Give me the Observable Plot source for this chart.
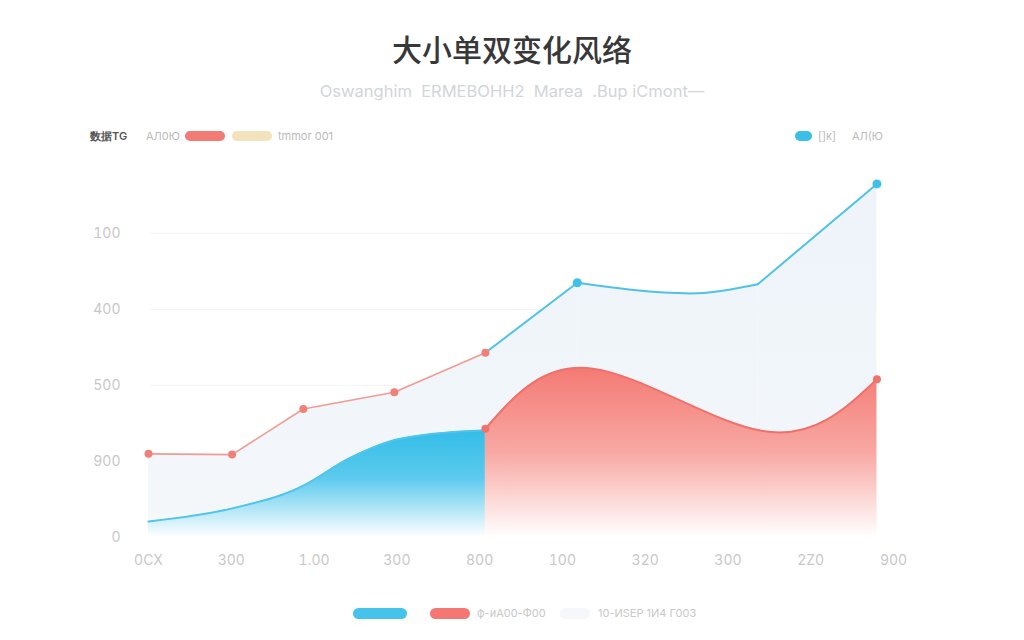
<!DOCTYPE html>
<html><head><meta charset="utf-8">
<script src="https://cdn.jsdelivr.net/npm/d3@7"></script>
<script src="https://cdn.jsdelivr.net/npm/@observablehq/plot@0.6"></script>
<style>
body{margin:0;background:#fff;width:1024px;height:640px;overflow:hidden;position:relative;font-family:Inter,"Noto Sans",sans-serif;}
.abs{position:absolute;white-space:nowrap;}
#title{left:0;width:1024px;top:26px;text-align:center;font-family:"Noto Sans CJK SC",sans-serif;font-size:30px;font-weight:500;color:#383838;}
#sub{left:0;width:1024px;top:81px;text-align:center;font-size:16.5px;color:#d2d5d9;}
.pill{position:absolute;border-radius:6px;}
.lt{position:absolute;font-size:11px;color:#bbb;line-height:14px;}
#chart{position:absolute;left:0;top:150px;}
</style></head>
<body>
<div id="title" class="abs">大小单双变化风络</div>
<div id="sub" class="abs">Oswanghim&nbsp; ERMEBOHH2&nbsp; Marea&nbsp; .Bup iCmont—</div>

<div class="lt" style="left:90px;top:129px;color:#555;font-weight:600;">数据TG</div>
<div class="lt" style="left:146px;top:129px;">AЛ0Ю</div>
<div class="pill" style="left:185px;top:131px;width:40px;height:10px;background:#f27b76;"></div>
<div class="pill" style="left:232px;top:131px;width:40px;height:10px;background:#f3e2bb;"></div>
<div class="lt" style="left:278px;top:129px;">tmmor 001</div>
<div class="pill" style="left:795px;top:131px;width:17px;height:10px;background:#3bbfe6;"></div>
<div class="lt" style="left:818px;top:129px;">[]к]</div>
<div class="lt" style="left:852px;top:129px;">AЛ(Ю</div>

<div class="pill" style="left:353px;top:608px;width:54px;height:11px;background:#45c3ea;"></div>
<div class="pill" style="left:430px;top:608px;width:40px;height:11px;background:#f47774;"></div>
<div class="lt" style="left:477px;top:606px;color:#c8c8c8;">ф-иA00-Ф00</div>
<div class="pill" style="left:560px;top:608px;width:30px;height:11px;background:#f5f7fa;"></div>
<div class="lt" style="left:598px;top:606px;color:#c8c8c8;">10-ИSEP 1И4 Г003</div>

<div id="chart"></div>
<script>
// x ticks (category index) and their labels
const xTicks = [0,1,2,3,4,5,6,7,8,9];
const xLabels = ["0CX","300","1.00","300","800","100","320","300","2Z0","900"];
// y ticks and their (as printed) labels
const yTicks = [0,100,200,300,400];
const yLabels = ["0","900","500","400","100"];

// upper line, red part
const upRedX = [0,1.01,1.87,2.97,4.07];
const upRedY = [110,109,169,191,243];
// upper line, blue part (straight rise, gentle sag, straight rise)
const upBlueX = [4.07,5.18,6.55,7.36,8.8];
const upBlueY = [243,335,321,333,465];
// lower blue area
const blueX = [0,1.0,1.83,2.44,3.04,4.07];
const blueY = [21,38,66,105,130,141];
// lower red area
const redX = [4.07,5.37,7.42,8.8];
const redY = [143,222,140,208];

const toRows = (xs, ys) => xs.map((x,i)=>({x, y: ys[i]}));
const upRed = toRows(upRedX, upRedY);
const upBlue = toRows(upBlueX, upBlueY);
const upBlueA = upBlue.slice(0, 2);
const upBlueB = upBlue.slice(1, 4);
const upBlueC = upBlue.slice(3);
const blueArea = toRows(blueX, blueY);
const redArea = toRows(redX, redY);
const upBlueDots = [upBlue[1], upBlue[upBlue.length-1]];
const redDots = [redArea[0], redArea[redArea.length-1]];

const defs = () => {
  const ns = "http://www.w3.org/2000/svg";
  const g = document.createElementNS(ns, "defs");
  g.innerHTML = `
  <linearGradient id="gBlue" x1="0" y1="0" x2="0" y2="1">
    <stop offset="0" stop-color="#33bde8"/>
    <stop offset="0.45" stop-color="#5ccaee"/>
    <stop offset="1" stop-color="#ffffff"/>
  </linearGradient>
  <linearGradient id="gRed" x1="0" y1="0" x2="0" y2="1">
    <stop offset="0" stop-color="#f47a74"/>
    <stop offset="0.5" stop-color="#f8a8a3"/>
    <stop offset="1" stop-color="#ffffff"/>
  </linearGradient>
  <linearGradient id="gBack" gradientUnits="userSpaceOnUse" x1="0" y1="0" x2="0" y2="387">
    <stop offset="0" stop-color="#edf3fa"/>
    <stop offset="0.93" stop-color="#f3f7fa"/>
    <stop offset="1" stop-color="#ffffff"/>
  </linearGradient>`;
  return g;
};

const back = {fill: "url(#gBack)"};
const chart = Plot.plot({
  width: 1024,
  height: 430,
  marginLeft: 148,
  marginRight: 131,
  marginTop: 22,
  marginBottom: 43,
  style: {fontFamily: "Inter, 'Noto Sans', sans-serif", fontSize: "14px", color: "#c8c8c8", background: "transparent"},
  x: {domain: [0, 9], ticks: xTicks, tickFormat: i => xLabels[i], tickSize: 0, tickPadding: 18, label: null},
  y: {domain: [0, 480], ticks: yTicks, tickFormat: v => yLabels[yTicks.indexOf(v)], tickSize: 0, tickPadding: 28, label: null},
  marks: [
    defs,
    Plot.ruleY(yTicks.slice(1), {x1: 0.03, x2: 8.8, stroke: "#f2f3f5", strokeWidth: 1}),
    Plot.areaY(upRed, {x: "x", y: "y", ...back, curve: "linear"}),
    Plot.areaY(upBlueA, {x: "x", y: "y", ...back, curve: "linear"}),
    Plot.areaY(upBlueB, {x: "x", y: "y", ...back, curve: "monotone-x"}),
    Plot.areaY(upBlueC, {x: "x", y: "y", ...back, curve: "linear"}),
    Plot.areaY(blueArea, {x: "x", y: "y", fill: "url(#gBlue)", curve: "monotone-x"}),
    Plot.lineY(blueArea, {x: "x", y: "y", stroke: "#4fc4ec", strokeWidth: 2, curve: "monotone-x"}),
    Plot.areaY(redArea, {x: "x", y: "y", fill: "url(#gRed)", curve: "natural"}),
    Plot.lineY(redArea, {x: "x", y: "y", stroke: "#f0716b", strokeWidth: 2, curve: "natural"}),
    Plot.lineY(upRed, {x: "x", y: "y", stroke: "#f39b92", strokeWidth: 1.6}),
    Plot.lineY(upBlueA, {x: "x", y: "y", stroke: "#4fc2e8", strokeWidth: 2}),
    Plot.lineY(upBlueB, {x: "x", y: "y", stroke: "#4fc2e8", strokeWidth: 2, curve: "monotone-x"}),
    Plot.lineY(upBlueC, {x: "x", y: "y", stroke: "#4fc2e8", strokeWidth: 2}),
    Plot.dot(upRed, {x: "x", y: "y", r: 4, fill: "#f08078"}),
    Plot.dot(upBlueDots, {x: "x", y: "y", r: 4.5, fill: "#3fc0e8"}),
    Plot.dot(redDots, {x: "x", y: "y", r: 4, fill: "#f0726c"})
  ]
});
document.getElementById("chart").appendChild(chart);
</script>
</body></html>
